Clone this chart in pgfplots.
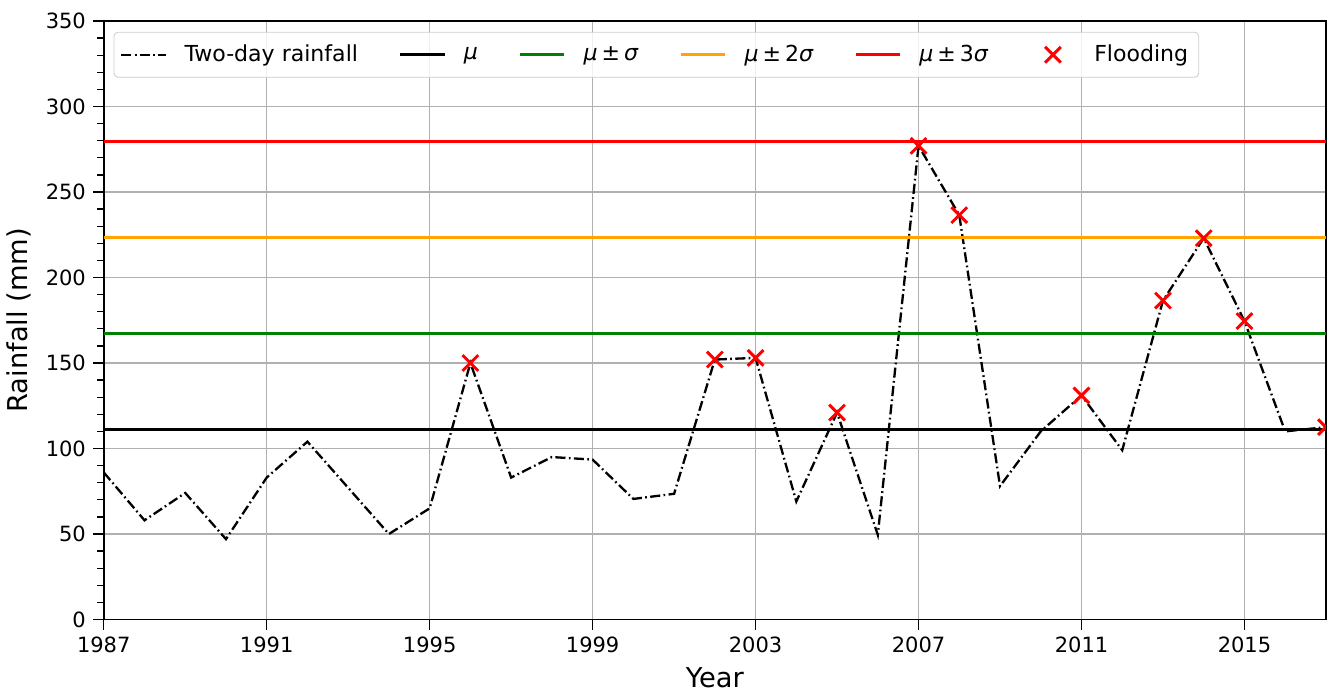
\documentclass[border=0pt]{standalone}
\usepackage{pgfplots}
\pgfplotsset{compat=1.18}
\usepackage{fontspec}
\setmainfont{DejaVu Sans}

\definecolor{mplgreen}{RGB}{0,128,0}
\definecolor{mplorange}{RGB}{255,165,0}
\definecolor{gridgray}{RGB}{176,176,176}
\definecolor{legedge}{RGB}{204,204,204}

\newcommand{\plusminus}{\hspace{1.9pt}±\hspace{1.9pt}}

\pgfplotstableread{
year rain
1987 86
1988 58
1989 74
1990 47
1991 83
1992 104
1993 77
1994 50
1995 65
1996 150
1997 83
1998 95
1999 93.5
2000 70.5
2001 73.5
2002 152
2003 153
2004 69
2005 121
2006 49.5
2007 277
2008 236.5
2009 78
2010 110
2011 131
2012 99
2013 186.5
2014 223
2015 174.5
2016 110
2017 112.5
}\rainfall

\pgfplotstableread{
year rain
1996 150
2002 152
2003 153
2005 121
2007 277
2008 236.5
2011 131
2013 186.5
2014 223
2015 174.5
2017 112.5
}\flooding

\begin{document}
\begin{tikzpicture}
\begin{axis}[
  scale only axis,
  width=582pt, height=285pt,
  xmin=1987, xmax=2017, ymin=0, ymax=350,
  xtick={1987,1991,...,2015},
  minor x tick num=3,
  ytick={0,50,...,350},
  minor y tick num=4,
  grid=major,
  major grid style={gridgray, line width=0.6pt},
  tick align=outside, tick pos=left,
  major tick length=5pt, minor tick length=3pt,
  every tick/.style={black, line width=0.6pt},
  axis line style={line width=0.8pt},
  /pgf/number format/assume math mode=true,
  /pgf/number format/set thousands separator={},
  ticklabel style={font=\fontsize{10}{12}\selectfont},
  xlabel={Year}, ylabel={Rainfall (mm)},
  label style={font=\fontsize{13}{15}\selectfont},
  clip marker paths=true,
  legend columns=6,
  legend cell align=left,
  legend image code/.code={%
    \path (0pt,0pt) (21pt,0pt);
    \draw[mark repeat=2,mark phase=2,#1] plot coordinates {(0pt,0pt) (10.5pt,0pt) (21pt,0pt)};},
  legend style={
    at={(0.008,0.982)}, anchor=north west,
    draw=legedge, rounded corners=2pt, fill=white, fill opacity=0.8, text opacity=1,
    font=\fontsize{10.5}{12.5}\selectfont,
    inner xsep=3pt, inner ysep=4pt,
    /tikz/every odd column/.append style={column sep=6.5pt},
    /tikz/every even column/.append style={column sep=17.5pt},
  },
]
\addplot[black, line width=1.1pt, dash pattern=on 4.8pt off 1.6pt on 0.8pt off 1.6pt, mark=none]
  table[x=year, y=rain] {\rainfall};
\addlegendentry{Two-day rainfall}
\addplot[black, line width=1.4pt, mark=none] coordinates {(1987,111.3) (2017,111.3)};
\addlegendentry{\textit{μ}}
\addplot[mplgreen, line width=1.4pt, mark=none] coordinates {(1987,167.4) (2017,167.4)};
\addlegendentry{\textit{μ}\plusminus\textit{σ}}
\addplot[mplorange, line width=1.4pt, mark=none] coordinates {(1987,223.6) (2017,223.6)};
\addlegendentry{\textit{μ}\plusminus 2\textit{σ}}
\addplot[red, line width=1.4pt, mark=none] coordinates {(1987,279.8) (2017,279.8)};
\addlegendentry{\textit{μ}\plusminus 3\textit{σ}}
\addplot[only marks, red, mark=x, mark size=5.3pt, line width=1.4pt]
  table[x=year, y=rain] {\flooding};
\addlegendentry{Flooding}
\end{axis}
\path (current axis.north) ++(0,10pt);
\path (current axis.east) ++(4.8pt,0);
\end{tikzpicture}
\end{document}
